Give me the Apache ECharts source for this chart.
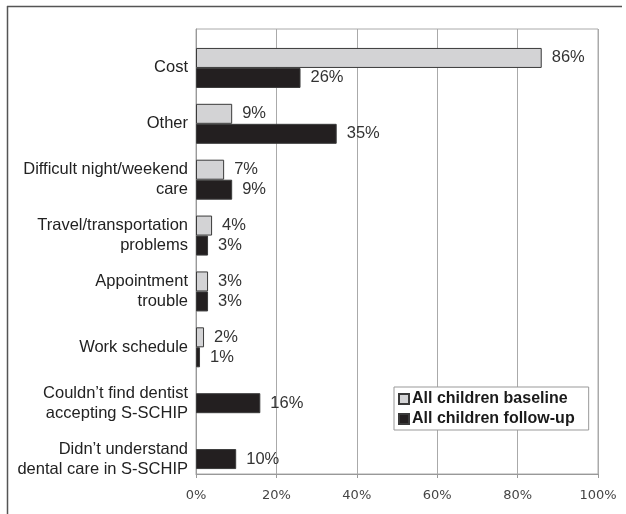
<!DOCTYPE html>
<html>
<head>
<meta charset="utf-8">
<script src="https://cdn.jsdelivr.net/npm/echarts@6/dist/echarts.min.js"></script>
<style>
  html, body { margin: 0; padding: 0; background: #fff; }
  #chart { width: 626px; height: 514px; }
</style>
</head>
<body>
<div id="chart"></div>
<script>
// data (percent)
const categories = [
  'Cost',
  'Other',
  'Difficult night/weekend\ncare',
  'Travel/transportation\nproblems',
  'Appointment\ntrouble',
  'Work schedule',
  'Couldn\u2019t find dentist\naccepting S-SCHIP',
  'Didn\u2019t understand\ndental care in S-SCHIP'
]
const baseline = [86, 9, 7, 4, 3, 2, null, null]
const followUp = [26, 35, 9, 3, 3, 1, null, null]
// follow-up only rows (no baseline value), drawn centred on the row
const followUpOnly = [null, null, null, null, null, null, 16, 10]
const xTicks = [0, 20, 40, 60, 80, 100]

const GRAY = '#d3d3d5'
const BLACK = '#231f20'
const EDGE = '#3a3a3a'

const chart = echarts.init(document.getElementById('chart'))

const valueLabel = {
  show: true,
  position: 'right',
  distance: 10,
  formatter: p => p.value + '%',
  fontFamily: 'Liberation Sans',
  fontSize: 16.5,
  color: '#333'
}

option = {
  animation: false,
  backgroundColor: '#fff',
  textStyle: { fontFamily: 'Liberation Sans' },
  graphic: [
    { type: 'line', shape: { x1: 7, y1: 6.5, x2: 622, y2: 6.5 }, style: { stroke: '#555', lineWidth: 1.5 } },
    { type: 'line', shape: { x1: 7.5, y1: 6, x2: 7.5, y2: 514 }, style: { stroke: '#555', lineWidth: 1.5 } }
  ],
  legend: {
    data: ['All children baseline', 'All children follow-up'],
    orient: 'vertical',
    left: 394,
    top: 387,
    padding: [4, 14, 3, 4],
    itemWidth: 10,
    itemHeight: 10,
    itemGap: 4,
    icon: 'rect',
    backgroundColor: '#fff',
    borderColor: '#999',
    borderWidth: 1,
    borderRadius: 0,
    textStyle: { fontFamily: 'Liberation Sans', fontWeight: 'bold', fontSize: 16, color: '#1a1a1a', padding: [0, 0, 0, -2] }
  },
  grid: [
    // frame, gridlines and x axis
    { left: 196, right: 28, top: 29, bottom: 40, show: true, borderColor: '#aaa', borderWidth: 1, backgroundColor: 'transparent' },
    // bars and category labels
    { left: 196, right: 28, top: 40, bottom: 27 }
  ],
  xAxis: [
    {
      gridIndex: 0, type: 'value', min: 0, max: 100, interval: 20,
      axisLine: { show: true, lineStyle: { color: '#999' } },
      axisTick: { show: true, length: 4, lineStyle: { color: '#999' } },
      axisLabel: { formatter: v => v + '%', fontFamily: 'DejaVu Sans', fontSize: 13, color: '#444', margin: 15 },
      splitLine: { show: true, lineStyle: { color: '#aaa', width: 1 } }
    },
    { gridIndex: 1, type: 'value', min: 0, max: 100, show: false },
    { gridIndex: 1, type: 'value', min: 0, max: 100, show: false }
  ],
  yAxis: [
    {
      gridIndex: 0, type: 'value', min: 0, max: 1,
      axisLine: { show: true, lineStyle: { color: '#999' } },
      axisTick: { show: false }, axisLabel: { show: false }, splitLine: { show: false }
    },
    {
      gridIndex: 1, type: 'category', data: categories, inverse: true,
      axisLine: { show: false }, axisTick: { show: false },
      axisLabel: { fontFamily: 'Liberation Sans', fontSize: 16.5, color: '#222', lineHeight: 20, margin: 8, align: 'right' }
    },
    {
      gridIndex: 1, type: 'category', data: categories, inverse: true, show: false
    }
  ],
  series: [
    {
      name: 'All children baseline', type: 'bar', xAxisIndex: 1, yAxisIndex: 1,
      data: baseline, barWidth: 20, barGap: '0%',
      itemStyle: { color: GRAY, borderColor: EDGE, borderWidth: 1 },
      label: valueLabel
    },
    {
      name: 'All children follow-up', type: 'bar', xAxisIndex: 1, yAxisIndex: 1,
      data: followUp, barWidth: 20, barGap: '0%',
      itemStyle: { color: BLACK, borderColor: EDGE, borderWidth: 1 },
      label: valueLabel
    },
    {
      name: 'All children follow-up', type: 'bar', xAxisIndex: 2, yAxisIndex: 2,
      data: followUpOnly, barWidth: 20,
      itemStyle: { color: BLACK, borderColor: EDGE, borderWidth: 1 },
      label: valueLabel
    }
  ]
}
chart.setOption(option)
</script>
</body>
</html>
